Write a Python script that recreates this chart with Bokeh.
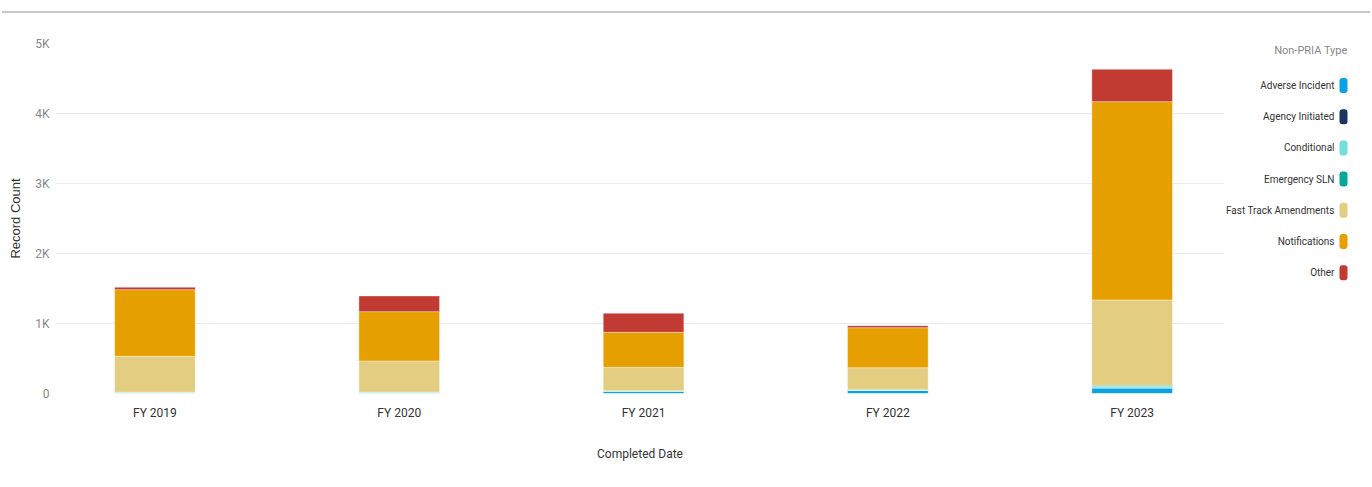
from bokeh.plotting import figure
from bokeh.models import Range1d, FixedTicker, Div, ColumnDataSource
from bokeh.layouts import row, column
from bokeh.embed import file_html
from bokeh.resources import INLINE
from bokeh.core.properties import value

# ---------------- data ----------------
categories = ["FY 2019", "FY 2020", "FY 2021", "FY 2022", "FY 2023"]
series_names = ["Adverse Incident", "Agency Initiated", "Conditional", "Emergency SLN",
                "Fast Track Amendments", "Notifications", "Other"]
colors = ["#0aa2e0", "#1b3463", "#72dfd9", "#06a89b", "#e2cd80", "#e5a000", "#c23b33"]

adverse_incident = [3, 5, 30, 45, 78]
agency_initiated = [0, 0, 0, 0, 3]
conditional = [15, 15, 10, 10, 22]
emergency_sln = [0, 0, 0, 0, 14]
fast_track_amendments = [513, 444, 334, 314, 1219]
notifications = [952, 705, 500, 571, 2833]
other = [34, 224, 272, 29, 462]

y_ticks = [0, 1000, 2000, 3000, 4000, 5000]
y_tick_labels = ["0", "1K", "2K", "3K", "4K", "5K"]

FONT = "Roboto"

# ---------------- main chart ----------------
idx = list(range(len(categories)))
data = {"x": idx}
keys = ["s%d" % i for i in range(len(series_names))]
for k, vals in zip(keys, [adverse_incident, agency_initiated, conditional, emergency_sln,
                          fast_track_amendments, notifications, other]):
    data[k] = vals
src = ColumnDataSource(data)

FW, FH = 1169, 350
TOP, BOTTOM = 30, 92
p = figure(frame_width=FW, frame_height=FH, output_backend="svg", toolbar_location=None,
           x_range=Range1d(-0.407, len(categories) - 1 + 0.378),
           y_range=Range1d(0, 5000),
           min_border_left=55, min_border_right=0, min_border_top=TOP, min_border_bottom=BOTTOM)
p.outline_line_color = None
p.background_fill_color = "white"
p.border_fill_color = "white"

p.vbar_stack(keys, x="x", width=0.33, source=src, color=colors,
             line_color="white", line_width=0.6, line_alpha=0.6)

p.xgrid.visible = False
p.ygrid.grid_line_color = "#e6ebf1"
p.ygrid.grid_line_width = 1

xa = p.xaxis[0]
xa.ticker = FixedTicker(ticks=idx)
xa.major_label_overrides = {i: c for i, c in zip(idx, categories)}
xa.axis_line_color = None
xa.major_tick_line_color = None
xa.minor_tick_line_color = None
xa.major_label_text_font = FONT
xa.major_label_text_font_size = "12px"
xa.major_label_text_color = "#333333"
xa.major_label_standoff = 6
xa.axis_label = "Completed Date"
xa.axis_label_text_font = FONT
xa.axis_label_text_font_size = "12px"
xa.axis_label_text_font_style = "normal"
xa.axis_label_text_color = "#333333"
xa.axis_label_standoff = 24

ya = p.yaxis[0]
ya.ticker = FixedTicker(ticks=y_ticks)
ya.major_label_overrides = {t: l for t, l in zip(y_ticks, y_tick_labels)}
ya.axis_line_color = None
ya.major_tick_line_color = None
ya.minor_tick_line_color = None
ya.major_label_text_font = FONT
ya.major_label_text_font_size = "12px"
ya.major_label_text_color = "#888888"
ya.major_label_standoff = 0
ya.axis_label = "Record Count"
ya.axis_label_text_font = "Liberation Sans"
ya.axis_label_text_font_size = "13px"
ya.axis_label_text_font_style = "normal"
ya.axis_label_text_color = "#333333"
ya.axis_label_standoff = 9

# ---------------- legend panel (data units = canvas pixels) ----------------
LW = 145
leg = figure(width=LW, frame_height=FH, output_backend="svg", toolbar_location=None,
             x_range=Range1d(0, LW), y_range=Range1d(TOP + FH, TOP),
             min_border_left=0, min_border_right=0,
             min_border_top=TOP, min_border_bottom=BOTTOM)
leg.axis.visible = False
leg.grid.visible = False
leg.outline_line_color = None
leg.border_fill_color = "white"

leg.text(x=[123], y=[37], text=["Non-PRIA Type"], text_align="right", text_baseline="middle",
         text_font=value(FONT), text_font_size="11px", text_color="#888888")

ys = [72 + 31.2 * i for i in range(len(series_names))]
leg.text(x=[110] * len(series_names), y=ys, text=series_names, text_align="right",
         text_baseline="middle", text_font=value(FONT), text_font_size="10px",
         text_color="#333333")
leg.rect(x=[119] * len(series_names), y=ys, width=8, height=15,
         width_units="screen", height_units="screen", fill_color=colors,
         line_color=None, border_radius=3)

H = TOP + FH + BOTTOM
top_line = Div(text="", width=1368, height=2, margin=(11, 0, 0, 2),
               styles={"background-color": "#c8c8c8"})
right_line = Div(text="", width=1, height=H, styles={"background-color": "#e6e6e6"})

layout = column(top_line, row(p, leg, right_line, spacing=0), spacing=0)

open("out.html", "w").write(file_html(layout, INLINE))
